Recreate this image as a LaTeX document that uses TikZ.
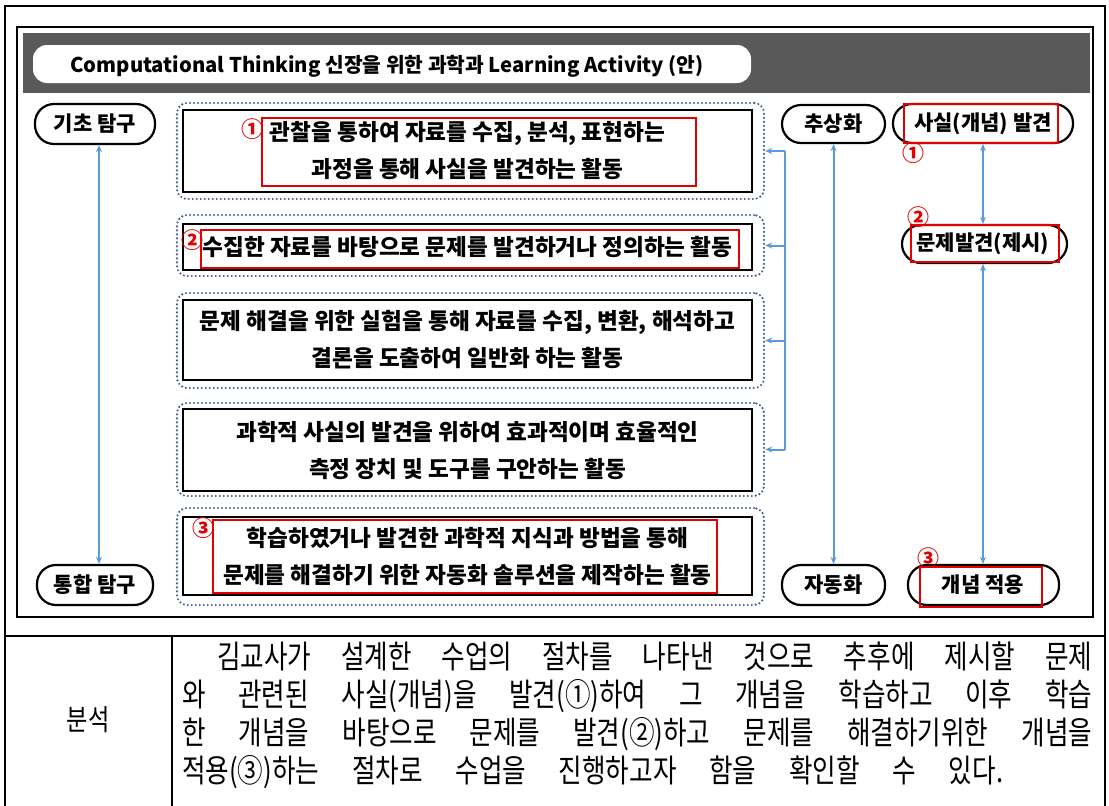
\documentclass[tikz,border=0pt]{standalone}
\usepackage{fontspec}
\setmainfont{Noto Sans CJK KR}
\newfontfamily\parafont{Noto Sans CJK KR}[FakeStretch=0.8]
\usetikzlibrary{arrows.meta}
\definecolor{bandgray}{RGB}{89,89,89}
\definecolor{arrblue}{RGB}{91,155,213}
\definecolor{dotblue}{RGB}{68,96,140}
\definecolor{redc}{RGB}{226,0,0}
\tikzset{
  pill/.style={draw=black, line width=2.2pt, rounded corners=19pt, inner sep=0pt,
    font=\bfseries\fontsize{21}{22}\selectfont},
  pilltext/.style={inner sep=0pt, font=\bfseries\fontsize{21}{22}\selectfont},
  actbox/.style={draw=black, line width=2.6pt, inner sep=0pt, align=center,
    font=\bfseries\fontsize{22.6}{37}\selectfont},
  dotbox/.style={draw=dotblue, line width=2.4pt, dash pattern=on 0pt off 4pt, line cap=round,
    rounded corners=10pt, inner sep=0pt},
  redbox/.style={draw=redc, line width=2pt, inner sep=0pt},
  num/.style={text=redc, font=\bfseries\fontsize{22}{22}\selectfont, inner sep=0pt},
  arr/.style={draw=arrblue, line width=2pt, -{Stealth[length=7pt,width=6pt]}},
  biarr/.style={draw=arrblue, line width=2pt, {Stealth[length=7pt,width=6pt]}-{Stealth[length=7pt,width=6pt]}},
  fbline/.style={draw=arrblue, line width=2pt},
  tline/.style={draw=black, line width=1.5pt},
  paraline/.style={anchor=base west, inner sep=0pt, font=\parafont\fontsize{32}{32}\selectfont},
}
\begin{document}
\begin{tikzpicture}[x=1pt,y=-1pt]
\useasboundingbox (0,0) rectangle (1109,806);
% table
\draw[tline] (5,806) -- (5,6) -- (1105,6) -- (1105,806);
\draw[tline] (5,636) -- (1105,636);
\draw[tline] (172,636) -- (172,806);
% figure frame
\node[draw=black, line width=2pt, minimum width=1076pt, minimum height=590pt, inner sep=0pt] (frame) at (555,322) {};
\node[fill=bandgray, minimum width=1067pt, minimum height=60pt, inner sep=0pt] (band) at (556.5,63) {};
\node[fill=white, rounded corners=14pt, minimum width=718pt, minimum height=38pt, inner sep=0pt] (tpill) at (392,64) {};
\node[anchor=west, inner sep=0pt, font=\bfseries\fontsize{20.3}{22}\selectfont] (title) at (70,66) {Computational Thinking 신장을 위한 과학과 Learning Activity (안)};
% left pills
\node[pill, minimum width=120pt, minimum height=40pt] (p1) at (95,124) {기초 탐구};
\node[pill, minimum width=116pt, minimum height=40pt] (p2) at (95,585) {통합 탐구};
\draw[biarr] ([xshift=4pt]p1.south) -- ([xshift=4pt]p2.north);
% activity boxes
\node[dotbox, minimum width=587pt, minimum height=96pt] (d1) at (470.5,151) {};
\node[dotbox, minimum width=587pt, minimum height=61pt] (d2) at (470.5,245.5) {};
\node[dotbox, minimum width=587pt, minimum height=95pt] (d3) at (470.5,340.5) {};
\node[dotbox, minimum width=587pt, minimum height=93pt] (d4) at (470.5,449.5) {};
\node[dotbox, minimum width=587pt, minimum height=97pt] (d5) at (470.5,556.5) {};
\node[actbox, minimum width=569pt, minimum height=82pt] (b1) at (467.5,151) {관찰을 통하여 자료를 수집, 분석, 표현하는\\과정을 통해 사실을 발견하는 활동};
\node[actbox, minimum width=569pt, minimum height=46pt] (b2) at (467.5,247) {수집한 자료를 바탕으로 문제를 발견하거나 정의하는 활동};
\node[actbox, minimum width=569pt, minimum height=80pt] (b3) at (467.5,340) {문제 해결을 위한 실험을 통해 자료를 수집, 변환, 해석하고\\결론을 도출하여 일반화 하는 활동};
\node[actbox, minimum width=569pt, minimum height=82pt] (b4) at (467.5,450) {과학적 사실의 발견을 위하여 효과적이며 효율적인\\측정 장치 및 도구를 구안하는 활동};
\node[actbox, minimum width=569pt, minimum height=78pt] (b5) at (467.5,556) {학습하였거나 발견한 과학적 지식과 방법을 통해\\문제를 해결하기 위한 자동화 솔루션을 제작하는 활동};
\node[redbox, minimum width=434pt, minimum height=68pt] (r1) at (479,152) {};
\node[redbox, minimum width=538pt, minimum height=38pt] (r2) at (470,249) {};
\node[redbox, minimum width=504pt, minimum height=73pt] (r5) at (465,556.5) {};
\node[num] (n1) at (252,129) {①};
\node[num] (n2) at (192,240) {②};
\node[num] (n3) at (203,528) {③};
% feedback bracket
\coordinate (fb) at (785,151);
\draw[fbline] (d1.east -| fb) -- (d4.east -| fb);
\draw[arr] (d1.east -| fb) -- (d1.east);
\draw[arr] (d2.east -| fb) -- (d2.east);
\draw[arr] (d3.east -| fb) -- (d3.east);
\draw[arr] (d4.east -| fb) -- (d4.east);
% middle column
\node[pill, minimum width=103pt, minimum height=38pt] (a1) at (833.5,124) {추상화};
\node[pill, minimum width=103pt, minimum height=40pt] (a2) at (833.5,585) {자동화};
\draw[biarr] (a1.south) -- (a2.north);
% right column
\node[pill, minimum width=180pt, minimum height=39pt] (s1) at (983,123.5) {};
\node[pill, minimum width=165pt, minimum height=38pt] (s2) at (984.5,244) {};
\node[pill, minimum width=151pt, minimum height=40pt] (s3) at (983.5,585) {};
\node[redbox, minimum width=154pt, minimum height=39pt] (rs1) at (981,123.5) {};
\node[redbox, minimum width=148pt, minimum height=37pt] (rs2) at (985,243.5) {};
\node[redbox, minimum width=122pt, minimum height=40pt] (rs3) at (981,587) {};
\node[pilltext] (t1) at (983,123.5) {사실(개념) 발견};
\node[pilltext] (t2) at (983,244) {문제발견(제시)};
\node[pilltext] (t3) at (983,585) {개념 적용};
\node[num] (m1) at (913,153) {①};
\node[num] (m2) at (918,217) {②};
\node[num] (m3) at (928,558) {③};
\draw[biarr] (s1.south) -- (s1.south |- s2.north);
\draw[biarr] (s2.south -| s1.south) -- (s1.south |- s3.north);
% lower row
\node[inner sep=0pt, font=\parafont\fontsize{29}{29}\selectfont] (lab) at (88,720) {분석};
\node[paraline] (l1) at (217,668) {\makebox[875pt][s]{김교사가 설계한 수업의 절차를 나타낸 것으로 추후에 제시할 문제}};
\node[paraline] (l2) at (182,706) {\makebox[910pt][s]{와 관련된 사실(개념)을 발견(①)하여 그 개념을 학습하고 이후 학습}};
\node[paraline] (l3) at (182,744) {\makebox[910pt][s]{한 개념을 바탕으로 문제를 발견(②)하고 문제를 해결하기위한 개념을}};
\node[paraline] (l4) at (182,782) {\makebox[821pt][s]{적용(③)하는 절차로 수업을 진행하고자 함을 확인할 수 있다.}};
\end{tikzpicture}
\end{document}
